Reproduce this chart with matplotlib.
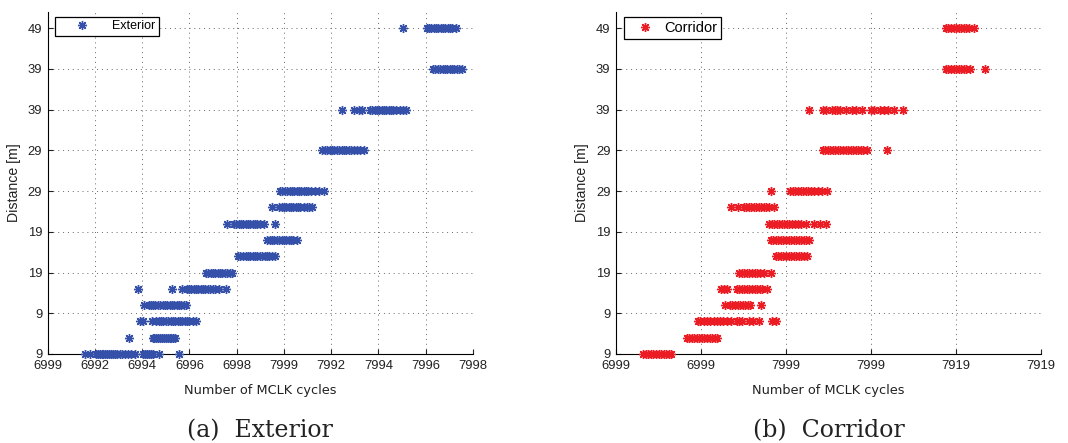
import matplotlib

matplotlib.use("Agg")

import matplotlib.pyplot as plt

# y positions of the measured distance rows (plot units, 5 units per grid step)
ROW_LEVELS = [0, 2, 4, 6, 8, 10, 12, 14, 16, 18, 20, 25, 30, 35, 40]
Y_TICKS = [0, 5, 10, 15, 20, 25, 30, 35, 40]
Y_TICK_LABELS = ["9", "9", "19", "19", "29", "29", "39", "39", "49"]

EXT_X_TICK_LABELS = ["6999", "6992", "6994", "6996", "6998",
                     "7999", "7992", "7994", "7996", "7998"]
COR_X_TICK_LABELS = ["6999", "6999", "7999", "7999", "7919", "7919"]

# exterior: MCLK readings per row, in tick units
ext_00 = [0.78, 0.90, 1.02, 1.06, 1.10, 1.14, 1.18, 1.22, 1.26, 1.30, 1.34, 1.38,
          1.42, 1.47, 1.52, 1.58, 1.63, 1.70, 1.76, 1.84, 2.02, 2.06, 2.10, 2.14,
          2.18, 2.22, 2.35, 2.77]
ext_02 = [1.73, 2.22, 2.26, 2.30, 2.34, 2.38, 2.42, 2.46, 2.50, 2.54, 2.58, 2.62,
          2.66, 2.70]
ext_04 = [1.95, 2.02, 2.20, 2.30, 2.35, 2.40, 2.45, 2.50, 2.55, 2.60, 2.65, 2.70,
          2.75, 2.80, 2.85, 2.90, 2.95, 3.00, 3.08, 3.14]
ext_06 = [2.04, 2.14, 2.18, 2.23, 2.28, 2.33, 2.38, 2.43, 2.48, 2.53, 2.58, 2.63,
          2.68, 2.73, 2.78, 2.83, 2.88, 2.93]
ext_08 = [1.92, 2.64, 2.85, 2.94, 2.99, 3.04, 3.09, 3.14, 3.19, 3.24, 3.29, 3.34,
          3.39, 3.44, 3.49, 3.54, 3.62, 3.77]
ext_10 = [3.36, 3.40, 3.45, 3.50, 3.55, 3.60, 3.65, 3.70, 3.75, 3.80, 3.85, 3.91]
ext_12 = [4.02, 4.08, 4.14, 4.19, 4.24, 4.29, 4.34, 4.39, 4.44, 4.49, 4.54, 4.59,
          4.64, 4.69, 4.74, 4.82]
ext_14 = [4.64, 4.70, 4.75, 4.80, 4.85, 4.90, 4.95, 5.00, 5.05, 5.10, 5.15, 5.20,
          5.28]
ext_16 = [3.80, 3.94, 3.99, 4.04, 4.09, 4.14, 4.19, 4.24, 4.29, 4.34, 4.39, 4.44,
          4.50, 4.58, 4.81]
ext_18 = [4.74, 4.90, 4.95, 5.00, 5.05, 5.10, 5.15, 5.20, 5.25, 5.30, 5.35, 5.42,
          5.48, 5.53, 5.60]
ext_20 = [4.92, 4.97, 5.02, 5.07, 5.12, 5.17, 5.22, 5.27, 5.32, 5.37, 5.42, 5.47,
          5.52, 5.58, 5.66, 5.75, 5.84]
ext_25 = [5.80, 5.86, 5.92, 5.97, 6.02, 6.07, 6.12, 6.17, 6.22, 6.27, 6.32, 6.37,
          6.42, 6.48, 6.55, 6.62, 6.70]
ext_30 = [6.24, 6.48, 6.58, 6.65, 6.82, 6.87, 6.92, 6.97, 7.02, 7.07, 7.12, 7.17,
          7.22, 7.27, 7.32, 7.37, 7.45, 7.52, 7.58]
ext_35 = [8.16, 8.21, 8.26, 8.31, 8.36, 8.41, 8.46, 8.51, 8.56, 8.61, 8.66, 8.71,
          8.78]
ext_40 = [7.52, 8.02, 8.07, 8.12, 8.17, 8.22, 8.27, 8.32, 8.37, 8.42, 8.47, 8.52,
          8.57, 8.65]

# corridor
cor_00 = [0.32, 0.35, 0.38, 0.41, 0.44, 0.47, 0.50, 0.53, 0.56, 0.59, 0.62, 0.65]
cor_02 = [0.83, 0.86, 0.89, 0.92, 0.95, 0.98, 1.01, 1.04, 1.07, 1.10, 1.13, 1.16,
          1.19]
cor_04 = [0.96, 0.99, 1.03, 1.07, 1.11, 1.15, 1.19, 1.22, 1.26, 1.31, 1.35, 1.42,
          1.45, 1.48, 1.56, 1.61, 1.68, 1.84, 1.88]
cor_06 = [1.28, 1.34, 1.37, 1.40, 1.43, 1.46, 1.49, 1.52, 1.55, 1.58, 1.70]
cor_08 = [1.23, 1.27, 1.30, 1.42, 1.45, 1.48, 1.51, 1.54, 1.57, 1.60, 1.63, 1.66,
          1.69, 1.72, 1.78]
cor_10 = [1.45, 1.48, 1.51, 1.54, 1.57, 1.60, 1.63, 1.66, 1.69, 1.74, 1.82]
cor_12 = [1.88, 1.91, 1.94, 1.97, 2.00, 2.03, 2.06, 2.09, 2.12, 2.15, 2.18, 2.21,
          2.25]
cor_14 = [1.82, 1.85, 1.88, 1.91, 1.94, 1.97, 2.00, 2.03, 2.06, 2.09, 2.12, 2.15,
          2.18, 2.21, 2.24, 2.27]
cor_16 = [1.80, 1.83, 1.86, 1.89, 1.92, 1.95, 1.98, 2.01, 2.04, 2.07, 2.10, 2.14,
          2.18, 2.24, 2.33, 2.40, 2.47]
cor_18 = [1.35, 1.43, 1.50, 1.53, 1.56, 1.59, 1.62, 1.65, 1.68, 1.71, 1.74, 1.77,
          1.80, 1.86]
cor_20 = [1.82, 2.05, 2.08, 2.11, 2.14, 2.17, 2.20, 2.23, 2.26, 2.29, 2.33, 2.38,
          2.42, 2.48]
cor_25 = [2.43, 2.46, 2.49, 2.52, 2.55, 2.58, 2.61, 2.64, 2.67, 2.70, 2.73, 2.76,
          2.79, 2.82, 2.85, 2.88, 2.91, 2.95, 3.19]
cor_30 = [2.27, 2.44, 2.47, 2.54, 2.57, 2.60, 2.64, 2.71, 2.78, 2.82, 2.89, 3.00,
          3.04, 3.11, 3.15, 3.20, 3.27, 3.38]
cor_35 = [3.88, 3.91, 3.94, 3.97, 4.00, 4.03, 4.06, 4.09, 4.12, 4.16, 4.34]
cor_40 = [3.88, 3.91, 3.94, 3.97, 4.00, 4.03, 4.06, 4.09, 4.12, 4.15, 4.21]

EXT_ROWS = [ext_00, ext_02, ext_04, ext_06, ext_08, ext_10, ext_12, ext_14,
            ext_16, ext_18, ext_20, ext_25, ext_30, ext_35, ext_40]
COR_ROWS = [cor_00, cor_02, cor_04, cor_06, cor_08, cor_10, cor_12, cor_14,
            cor_16, cor_18, cor_20, cor_25, cor_30, cor_35, cor_40]

EXT_COLOR = "#3450a8"
COR_COLOR = "#ec1c24"
GRID_COLOR = "#666666"
ASTERISK = (8, 2, 0)

TICK_FONT = "Liberation Sans"


def draw_panel(ax, rows, color, label, x_labels, legend_fs, handlelength, textpad):
    for i, (level, xs) in enumerate(zip(ROW_LEVELS, rows)):
        ax.plot(xs, [level] * len(xs), linestyle="none", marker=ASTERISK,
                markersize=6.5, markeredgewidth=1.0, color=color,
                label=label if i == 0 else None, clip_on=False, zorder=3)

    ax.set_xlim(0, len(x_labels) - 1)
    ax.set_ylim(0, 42)
    ax.set_xticks(range(len(x_labels)), x_labels)
    ax.set_yticks(Y_TICKS, Y_TICK_LABELS)
    ax.tick_params(direction="in", length=3.5, width=0.8, pad=4,
                   labelsize=9.4, colors="#222222")
    for tick in ax.get_xticklabels() + ax.get_yticklabels():
        tick.set_fontfamily(TICK_FONT)
    for side in ("top", "right"):
        ax.spines[side].set_visible(False)
    for side in ("left", "bottom"):
        ax.spines[side].set_linewidth(0.8)
    ax.grid(True, color=GRID_COLOR, linestyle=(0, (1, 4)), linewidth=0.7)
    ax.set_axisbelow(True)

    ax.set_ylabel("Distance [m]", fontfamily=TICK_FONT, fontsize=10.2,
                  color="#222222", labelpad=5)
    ax.set_xlabel("Number of MCLK cycles", fontfamily="DejaVu Sans",
                  fontsize=9.3, color="#222222", labelpad=9)

    leg = ax.legend(loc="upper left", bbox_to_anchor=(0.018, 0.986),
                    borderaxespad=0, fancybox=False, framealpha=1,
                    edgecolor="black", borderpad=0.3,
                    handlelength=handlelength, handletextpad=textpad,
                    prop={"family": TICK_FONT, "size": legend_fs})
    leg.get_frame().set_linewidth(0.9)


fig = plt.figure(figsize=(10.68, 4.43), dpi=100)
ax_ext = fig.add_axes([0.0447, 0.201, 0.398, 0.772])
ax_cor = fig.add_axes([0.5768, 0.201, 0.398, 0.772])

draw_panel(ax_ext, EXT_ROWS, EXT_COLOR, "Exterior", EXT_X_TICK_LABELS,
           9.0, 3.7, 0.5)
draw_panel(ax_cor, COR_ROWS, COR_COLOR, "Corridor", COR_X_TICK_LABELS,
           10.5, 2.3, 0.15)

caption = {"family": "DejaVu Serif", "size": 17, "color": "#222222"}
fig.text(0.2437, 0.012, "(a)  Exterior", ha="center", va="baseline", **caption)
fig.text(0.7757, 0.012, "(b)  Corridor", ha="center", va="baseline", **caption)

fig.savefig("out.png", dpi=100)
plt.close(fig)
